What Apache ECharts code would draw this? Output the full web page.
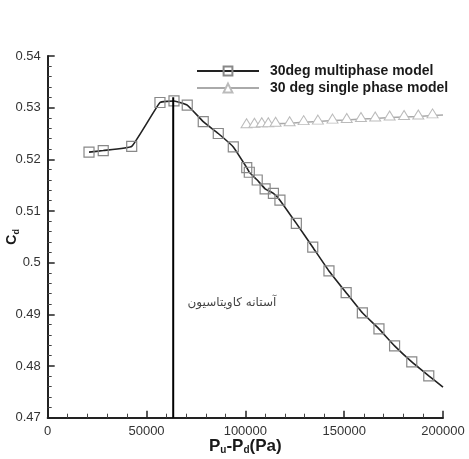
<!DOCTYPE html>
<html>
<head>
<meta charset="utf-8">
<script src="https://cdn.jsdelivr.net/npm/echarts@6/dist/echarts.min.js"></script>
<style>html,body{margin:0;padding:0;background:#fff}#c{width:469px;height:459px}</style>
</head>
<body>
<div id="c"></div>
<script>
// Multiphase model (squares); last point is the curve end without a marker
var multiX = [20900, 28100, 42500, 56800, 63900, 70600, 78700, 86300, 93900, 100700, 102000, 106000, 110000, 114200, 117500, 125800, 134100, 142300, 151000, 159200, 167600, 175500, 184200, 192800, 200000];
var multiY = [0.5214, 0.5217, 0.5225, 0.5310, 0.5313, 0.5305, 0.5273, 0.5250, 0.5224, 0.5184, 0.5175, 0.5160, 0.5143, 0.5134, 0.5121, 0.5076, 0.5030, 0.4984, 0.4942, 0.4903, 0.4872, 0.4839, 0.4808, 0.4781, 0.4759];
// Single phase model (triangles); last point is the curve end without a marker
var singleX = [100600, 104600, 108300, 111600, 115300, 122400, 129500, 136700, 144100, 151300, 158500, 165700, 173000, 180300, 187500, 194700, 200000];
var singleY = [0.5266, 0.5267, 0.5268, 0.5268, 0.5269, 0.5270, 0.5272, 0.5273, 0.5275, 0.5276, 0.5278, 0.5279, 0.5281, 0.5282, 0.5283, 0.5285, 0.5286];
// Cavitation threshold vertical line
var thresholdX = 63500;
var thresholdY = [0.47, 0.532];
var thresholdLabel = 'آستانه کاویتاسیون';
var labelPos = [93200, 0.4922];
var seriesNames = ['30deg multiphase model', '30 deg single phase model'];

function build(xs, ys) {
  return xs.map(function (x, i) {
    var d = { value: [x, ys[i]] };
    if (i === xs.length - 1) d.symbol = 'none';
    return d;
  });
}

var chart = echarts.init(document.getElementById('c'));
chart.setOption({
  animation: false,
  backgroundColor: '#fff',
  grid: { left: 47.7, right: 26, top: 56, bottom: 41.3, containLabel: false, outerBoundsMode: 'none' },
  legend: {
    data: [
      { name: seriesNames[0] },
      { name: seriesNames[1] }
    ],
    orient: 'vertical',
    left: 196,
    top: 64,
    padding: 0,
    itemWidth: 62,
    itemHeight: 11,
    itemGap: 3,
    textStyle: { fontFamily: 'Liberation Sans, Arial', fontWeight: 'bold', fontSize: 14, color: '#1a1a1a', padding: [0, 0, 0, 6] }
  },
  xAxis: {
    type: 'value', min: 0, max: 200000, interval: 50000,
    name: '{b|P}{s|u}{b|-P}{s|d}{b|(Pa)}',
    nameLocation: 'middle', nameGap: 19, nameMoveOverlap: false,
    nameTextStyle: {
      rich: {
        b: { fontFamily: 'Liberation Sans, Arial', fontWeight: 'bold', fontSize: 17, color: '#1a1a1a' },
        s: { fontFamily: 'Liberation Sans, Arial', fontWeight: 'bold', fontSize: 10, color: '#1a1a1a', verticalAlign: 'bottom', padding: [9, 0, 0, 0] }
      }
    },
    axisLine: { show: true, onZero: false, lineStyle: { color: '#222', width: 2 } },
    axisTick: { show: true, inside: true, length: 7, lineStyle: { color: '#222', width: 1.5 } },
    minorTick: { show: true, splitNumber: 5, length: 4, lineStyle: { color: '#444', width: 1 } },
    splitLine: { show: false },
    axisLabel: { fontFamily: 'Liberation Sans, Arial', fontSize: 13, color: '#333', margin: 7, formatter: function (v) { return String(v); } }
  },
  yAxis: {
    type: 'value', min: 0.47, max: 0.54, interval: 0.01,
    name: '{b|C}{s|d}',
    nameLocation: 'middle', nameGap: 27, nameRotate: 90, nameMoveOverlap: false,
    nameTextStyle: {
      rich: {
        b: { fontFamily: 'Liberation Sans, Arial', fontWeight: 'bold', fontSize: 14, color: '#1a1a1a' },
        s: { fontFamily: 'Liberation Sans, Arial', fontWeight: 'bold', fontSize: 9, color: '#1a1a1a', verticalAlign: 'bottom', padding: [8, 0, 0, 0] }
      }
    },
    axisLine: { show: true, onZero: false, lineStyle: { color: '#222', width: 2 } },
    axisTick: { show: true, inside: true, length: 7, lineStyle: { color: '#222', width: 1.5 } },
    minorTick: { show: true, splitNumber: 5, length: 4, lineStyle: { color: '#444', width: 1 } },
    splitLine: { show: false },
    axisLabel: { fontFamily: 'Liberation Sans, Arial', fontSize: 13, color: '#333', margin: 7 }
  },
  series: [
    {
      name: seriesNames[1], type: 'line', data: build(singleX, singleY),
      symbol: 'triangle', symbolSize: [11, 9], symbolOffset: [0, -2],
      showAllSymbol: true,
      lineStyle: { color: '#aaa', width: 1.5 },
      itemStyle: { color: '#fff', borderColor: '#bbb', borderWidth: 1 },
      z: 2
    },
    {
      name: seriesNames[0], type: 'line', data: build(multiX, multiY),
      symbol: 'rect', symbolSize: 10, smooth: 0.1,
      showAllSymbol: true,
      lineStyle: { color: '#222', width: 1.6 },
      itemStyle: { color: 'rgba(255,255,255,0)', borderColor: '#888', borderWidth: 1.2 },
      z: 3
    },
    {
      name: 'threshold', type: 'line',
      data: [[thresholdX, thresholdY[0]], [thresholdX, thresholdY[1]]],
      symbol: 'none', lineStyle: { color: '#000', width: 2 }, z: 4, silent: true
    },
    {
      name: 'label', type: 'scatter', data: [labelPos], symbolSize: 0, silent: true,
      label: { show: true, position: 'inside', formatter: thresholdLabel, fontFamily: 'DejaVu Sans', fontSize: 12, color: '#111' }
    }
  ]
});
</script>
</body>
</html>
